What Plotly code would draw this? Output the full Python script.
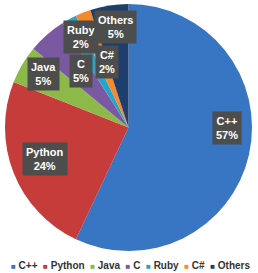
import math
import plotly.graph_objects as go

# Data
languages = ["C++", "Python", "Java", "C", "Ruby", "C#", "Others"]
shares = [57, 24, 5, 5, 2, 2, 5]
colors = ["#3875C3", "#C53C3A", "#8DB84A", "#7B58A2", "#27A5C8", "#F38B2D", "#1E3F6D"]

# Label placement (polar, relative to pie centre): angle clockwise from 12 o'clock, radius fraction
label_theta = [90, 249.3, 302.3, 320, 332.3, 341.8, 352.9]
label_r = [0.80, 0.72, 0.81, 0.60, 0.83, 0.56, 0.82]

W, H = 258, 273
cx, cy, R = 128.5, 127.5, 123.5

fig = go.Figure(go.Pie(
    labels=languages,
    values=shares,
    sort=False,
    direction="clockwise",
    rotation=0,
    marker=dict(colors=colors, line=dict(width=0)),
    textinfo="none",
    hoverinfo="label+percent",
    domain=dict(x=[(cx - R) / W, (cx + R) / W], y=[1 - (cy + R) / H, 1 - (cy - R) / H]),
    showlegend=False,
))

annotations = []
for name, val, th, rf in zip(languages, shares, label_theta, label_r):
    px = cx + rf * R * math.sin(math.radians(th))
    py = cy - rf * R * math.cos(math.radians(th))
    annotations.append(dict(
        x=px / W, y=1 - py / H, xref="paper", yref="paper",
        text=f"<b>{name}<br>{val}%</b>", showarrow=False,
        font=dict(family="Liberation Sans, Arial", size=11, color="white"),
        bgcolor="#4D4D4D", borderpad=3, align="center",
        xanchor="center", yanchor="middle",
    ))

# Legend built as text
nb = "\u00a0"
parts = []
for name, c in zip(languages, colors):
    parts.append(f'<span style="color:{c};font-size:8px">■</span>{nb}{name}')
legend_text = "<b>" + (nb * 2).join(parts) + "</b>"
annotations.append(dict(
    x=130 / W, y=1 - 265 / H, xref="paper", yref="paper",
    text=legend_text, showarrow=False,
    font=dict(family="Liberation Sans, Arial", size=10, color="#333333"),
    xanchor="center", yanchor="middle",
))

fig.update_layout(
    width=W, height=H,
    margin=dict(l=0, r=0, t=0, b=0),
    paper_bgcolor="white",
    plot_bgcolor="white",
    annotations=annotations,
)

fig.write_html(
    "out.html",
    config={"displayModeBar": False},
    post_script="document.body.style.margin='0px';document.body.style.overflow='hidden';",
)
